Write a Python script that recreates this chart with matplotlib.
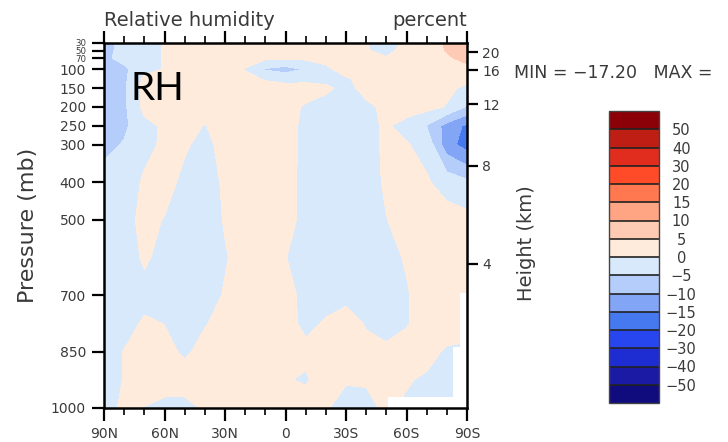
import numpy as np
import matplotlib
matplotlib.use("Agg")
import matplotlib.pyplot as plt

# ---------------- data ----------------
lats = [90, 80, 70, 60, 50, 40, 30, 20, 10, 0, -10, -20, -30, -40, -50, -60, -70, -80, -90]
pres = [30, 50, 70, 100, 125, 150, 200, 250, 300, 400, 500, 600, 700, 775, 850, 925, 1000]

rh_30   = [-6.5, -3.5, -1.5, 0.3, 2, 2, 2, 2, 2, 2, 2, 2, 2, 0.2, -2, 1.2, 3, 5.5, 7]
rh_50   = [-6.5, -3.5, -1.5, 0.3, 2, 2, 2, 2, 2, 2, 2, 2, 2, 0.3, -1.2, 1.5, 3, 5.2, 6.5]
rh_70   = [-6, -3.5, -1.5, 0.3, 2, 2, 2, 1.5, 1.0, 0.8, 1.0, 1.5, 2, 1, 0.3, 1.5, 2.8, 4.5, 6]
rh_100  = [-6.5, -6, -1.5, 0.3, 2, 2, 2, -0.25, -5.5, -7, -4.6, -1, 2, 2, 2, 2, 2, 3, 4]
rh_125  = [-7, -6, 1, 2, 2, 2, 2, 1.5, -0.5, -1.5, -1.5, -1.5, -0.5, 1.5, 2, 2, 2, 2, 1.5]
rh_150  = [-7, -6, 1.5, 2, 2, 2, 2, 2, 2, 1.5, 2, 1, -1.5, 1.5, 2, 2, 1.5, 1, -1]
rh_200  = [-7.5, -6, 1.5, 2, 2, 2, 2, 2, 2, 1.5, -0.5, -2, -2, -1, 1, 2, 1.5, -0.3, -5.5]
rh_250  = [-8, -6, -1.5, 0.8, 1.5, -0.2, 2, 2, 2, 1.5, -1, -2, -2, -1, 0.5, -1.5, -5.2, -12, -16]
rh_300  = [-6.5, -4.6, -1, 0.6, 0.5, -1.2, 1.5, 2, 2, 1.5, -1, -2, -2, -1, 0.5, 0.3, -1.5, -13, -17.2]
rh_400  = [-3, -2, 0.5, 1.5, -1, -2, 0.7, 2, 2, 1.2, -1, -2, -2, -1.5, 0.5, 2, 0.5, -2, -4]
rh_500  = [-2.5, -1.5, 1.2, -0.2, -2, -2, 0.3, 2, 2, 1.2, -1, -2, -2, -2, -0.1, 1.5, 2, 2, 1.5]
rh_600  = [-2, -2.5, 0.7, -1.5, -2, -2, -0.3, 1.5, 1.5, 0.1, -1.5, -2, -2, -2, -1, 0.3, 2, 2, 1.5]
rh_700  = [-2, -2, -1.5, -1.5, -2, -1.5, 0.3, 2, 2, 1.2, -1, -1.5, -1, -2, -2, -0.3, 1.5, 2, 2]
rh_775  = [-2, -1.8, 0.6, -0.1, -2, -0.3, 1.5, 2, 2, 1.5, -1, 0.4, 1.5, -0.3, -2, -0.3, 1.5, 2, 2]
rh_850  = [-2, 0.15, 2, 1.5, -0.8, 1.5, 2, 2, 2, 2, 1, 2, 1.5, 1, 1, 1.5, 1.2, -0.5, -1]
rh_925  = [-2, 0.2, 2, 2, 2, 2, 2, 2, 1.5, 0.3, -0.5, 2, 0.3, 0.3, 1, 0.3, -0.5, -0.5, -1]
rh_1000 = [-2, 1, -0.1, -1.3, -1.3, 0.5, 2, 2, 2, 2, 2, 0.3, -1.3, -0.8, 0.5, -0.5, -0.5, -0.5, -0.5]

# below-ground (missing data) region over Antarctica
ground_lat = [-50.8, -83.0, -86.5, -90.0]
ground_p = [971, 838, 695, 695]

levels = [-50, -40, -30, -20, -15, -10, -5, 0, 5, 10, 15, 20, 30, 40, 50]
level_labels = ["\u221250", "\u221240", "\u221230", "\u221220", "\u221215", "\u221210", "\u22125",
                "0", "5", "10", "15", "20", "30", "40", "50"]
colors = ["#100C7E", "#1A1AA5", "#1E2DD2", "#2846F0", "#4678F0", "#82A5F5", "#B4CDFA",
          "#D7E9FA", "#FEEBDB", "#FFCAB4", "#FFA584", "#FF7850", "#FF4B28", "#E12D1E",
          "#BE1E14", "#8C0008"]

xticks = [90, 60, 30, 0, -30, -60, -90]
xticklabels = ["90N", "60N", "30N", "0", "30S", "60S", "90S"]
yticks = [30, 50, 70, 100, 150, 200, 250, 300, 400, 500, 700, 850, 1000]
heights_km = [4, 8, 12, 16, 20]

# ---------------- figure ----------------
W, H = 728, 442
fig = plt.figure(figsize=(W / 100, H / 100), dpi=100)
ax = fig.add_axes([104 / W, 34 / H, 363 / W, 365 / H])

Z = np.array([rh_30, rh_50, rh_70, rh_100, rh_125, rh_150, rh_200, rh_250, rh_300,
              rh_400, rh_500, rh_600, rh_700, rh_775, rh_850, rh_925, rh_1000])
cf = ax.contourf(lats, pres, Z, levels=levels, colors=colors[1:-1], extend='both')
cf.cmap.set_under(colors[0])
cf.cmap.set_over(colors[-1])

ax.fill_between(ground_lat, ground_p, 1000, step='post', color='white', lw=0, zorder=2)

ax.set_xlim(90, -90)
ax.set_ylim(1000, 30)
tc = '#3a3a3a'
ax.set_xticks(xticks)
ax.set_xticklabels(xticklabels)
ax.set_xticks(np.arange(-80, 90, 10), minor=True)
ax.set_yticks(yticks)
ax.set_yticklabels([str(v) for v in yticks])
ax.tick_params(axis='both', which='major', direction='out', length=9, width=1.6,
               labelsize=10, colors='black', labelcolor=tc)
ax.tick_params(axis='x', which='minor', direction='out', length=5, width=1.2, colors='black')
ax.tick_params(axis='x', which='both', top=True, labeltop=False)
ax.tick_params(axis='x', which='major', pad=5)
ax.tick_params(axis='y', which='major', pad=4)
for lab in ax.get_yticklabels()[:3]:
    lab.set_fontsize(6.2)
for s in ax.spines.values():
    s.set_linewidth(1.8)
    s.set_zorder(5)

# right height axis (US standard atmosphere)
def std_p(zkm):
    z = zkm * 1000.0
    if z <= 11000:
        return 1013.25 * (1 - 2.25577e-5 * z) ** 5.25588
    return 226.32 * np.exp(-(z - 11000) / 6341.6)

ax2 = ax.twinx()
ax2.set_ylim(1000, 30)
ax2.set_yticks([std_p(h) for h in heights_km])
ax2.set_yticklabels([str(h) for h in heights_km])
ax2.tick_params(axis='y', direction='out', length=8, width=1.6, labelsize=10,
                labelcolor=tc, pad=3)
for s in ax2.spines.values():
    s.set_visible(False)

# texts
fig.text(104 / W, 1 - 21 / H, "Relative humidity", fontsize=14, color=tc, va='center', ha='left')
fig.text(467 / W, 1 - 21 / H, "percent", fontsize=14, color=tc, va='center', ha='right')
fig.text(28 / W, 1 - 225 / H, "Pressure (mb)", fontsize=16, color=tc, rotation=90,
         va='center', ha='center')
fig.text(527 / W, 1 - 243 / H, "Height (km)", fontsize=14, color=tc, rotation=90,
         va='center', ha='center')
fig.text(514 / W, 1 - 73 / H, "MIN = \u221217.20   MAX =", fontsize=12.5, color=tc,
         va='center', ha='left')
fig.text(131 / W, 1 - 100 / H, "RH", fontsize=28, family='Lato', color='black',
         va='baseline', ha='left')

# colorbar
cax = fig.add_axes([609 / W, 39 / H, 50 / W, 292 / H])
cb = fig.colorbar(cf, cax=cax, extend='both', extendrect=True, extendfrac='auto',
                  drawedges=True, ticks=levels)
cb.set_ticklabels(level_labels)
cb.outline.set_linewidth(1.0)
cb.outline.set_edgecolor('#444444')
cb.dividers.set_color('#222222')
cb.dividers.set_linewidth(1.2)
cax.tick_params(length=0, pad=16, labelsize=10.5, labelcolor=tc)
for lab in cax.get_yticklabels():
    lab.set_ha('center')

fig.savefig("out.png", dpi=100, facecolor='white')
